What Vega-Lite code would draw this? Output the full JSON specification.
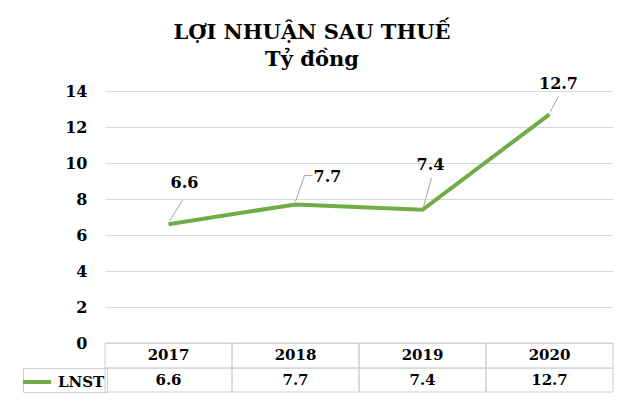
{
  "$schema": "https://vega.github.io/schema/vega-lite/v6.json",
  "width": 508,
  "height": 301,
  "autosize": {"type": "none"},
  "padding": {"left": 105, "top": 91, "right": 17, "bottom": 10},
  "background": "white",
  "title": {
    "text": ["LỢI NHUẬN SAU THUẾ", "Tỷ đồng"],
    "font": "'DejaVu Serif', serif",
    "fontSize": 21,
    "fontWeight": "bold",
    "lineHeight": 27,
    "color": "black",
    "anchor": "middle",
    "dx": -47,
    "offset": 6
  },
  "config": {
    "view": {"stroke": null},
    "text": {"font": "'DejaVu Serif', serif", "fontWeight": "bold", "fontSize": 15, "color": "black"}
  },
  "data": {
    "values": [
      {"year": "2017", "LNST": 6.6},
      {"year": "2018", "LNST": 7.7},
      {"year": "2019", "LNST": 7.4},
      {"year": "2020", "LNST": 12.7}
    ]
  },
  "encoding": {
    "x": {
      "field": "year",
      "type": "ordinal",
      "scale": {"paddingInner": 0, "paddingOuter": 0},
      "axis": null
    }
  },
  "layer": [
    {
      "mark": {"type": "rect", "fill": null, "stroke": "#d0d0d0", "strokeWidth": 1},
      "encoding": {
        "y": {
          "datum": 0,
          "type": "quantitative",
          "scale": {"domain": [-2.72, 14], "nice": false, "zero": false},
          "axis": {
            "values": [0, 2, 4, 6, 8, 10, 12, 14],
            "title": null,
            "grid": true,
            "gridColor": "#d9d9d9",
            "domain": false,
            "ticks": false,
            "labelFont": "'DejaVu Serif', serif",
            "labelFontSize": 16,
            "labelFontWeight": "bold",
            "labelColor": "black",
            "labelPadding": 18
          }
        },
        "y2": {"datum": -1.39}
      }
    },
    {
      "mark": {"type": "rect", "fill": null, "stroke": "#d0d0d0", "strokeWidth": 1},
      "encoding": {
        "y": {"datum": -1.39, "type": "quantitative"},
        "y2": {"datum": -2.72}
      }
    },
    {
      "mark": {"type": "text", "baseline": "middle"},
      "encoding": {
        "y": {"datum": -0.69, "type": "quantitative"},
        "text": {"field": "year"}
      }
    },
    {
      "mark": {"type": "text", "baseline": "middle"},
      "encoding": {
        "y": {"datum": -2.06, "type": "quantitative"},
        "text": {"field": "LNST", "format": ".1f"}
      }
    },
    {
      "mark": {"type": "line", "strokeWidth": 4, "strokeCap": "butt"},
      "encoding": {
        "y": {"field": "LNST", "type": "quantitative"},
        "stroke": {
          "datum": "LNST",
          "type": "nominal",
          "scale": {"range": ["#70AD47"]},
          "legend": {
            "orient": "none",
            "legendX": -82,
            "legendY": 277,
            "title": null,
            "symbolType": "M-1.4,0H1.4",
            "symbolSize": 400,
            "symbolStrokeWidth": 4,
            "symbolFillColor": "transparent",
            "labelFont": "'DejaVu Serif', serif",
            "labelFontSize": 15,
            "labelFontWeight": "bold",
            "labelColor": "black",
            "labelOffset": 9,
            "padding": 2,
            "strokeColor": "#d0d0d0"
          }
        }
      }
    },
    {
      "transform": [{"filter": "datum.year == '2017'"}],
      "encoding": {
        "y": {"field": "LNST", "type": "quantitative"},
        "x2": {"field": "year"},
        "y2": {"field": "LNST"}
      },
      "layer": [
        {"mark": {"type": "rule", "color": "#a6a6a6", "strokeWidth": 1, "xOffset": 1, "yOffset": -3, "x2Offset": 14, "y2Offset": -24}},
        {"mark": {"type": "text", "baseline": "middle", "fontSize": 16, "dx": 16, "dy": -41}, "encoding": {"text": {"field": "LNST", "format": ".1f"}}}
      ]
    },
    {
      "transform": [{"filter": "datum.year == '2018'"}],
      "encoding": {
        "y": {"field": "LNST", "type": "quantitative"},
        "x2": {"field": "year"},
        "y2": {"field": "LNST"}
      },
      "layer": [
        {"mark": {"type": "rule", "color": "#a6a6a6", "strokeWidth": 1, "xOffset": 0, "yOffset": -3, "x2Offset": 9, "y2Offset": -29}},
        {"mark": {"type": "rule", "color": "#a6a6a6", "strokeWidth": 1, "xOffset": 9, "yOffset": -29, "x2Offset": 17, "y2Offset": -29}},
        {"mark": {"type": "text", "baseline": "middle", "fontSize": 16, "dx": 32, "dy": -27}, "encoding": {"text": {"field": "LNST", "format": ".1f"}}}
      ]
    },
    {
      "transform": [{"filter": "datum.year == '2019'"}],
      "encoding": {
        "y": {"field": "LNST", "type": "quantitative"},
        "x2": {"field": "year"},
        "y2": {"field": "LNST"}
      },
      "layer": [
        {"mark": {"type": "rule", "color": "#a6a6a6", "strokeWidth": 1, "xOffset": 1, "yOffset": -3, "x2Offset": 9, "y2Offset": -32}},
        {"mark": {"type": "text", "baseline": "middle", "fontSize": 16, "dx": 8, "dy": -45}, "encoding": {"text": {"field": "LNST", "format": ".1f"}}}
      ]
    },
    {
      "transform": [{"filter": "datum.year == '2020'"}],
      "encoding": {
        "y": {"field": "LNST", "type": "quantitative"},
        "x2": {"field": "year"},
        "y2": {"field": "LNST"}
      },
      "layer": [
        {"mark": {"type": "rule", "color": "#a6a6a6", "strokeWidth": 1, "xOffset": 1, "yOffset": -3, "x2Offset": 9, "y2Offset": -18}},
        {"mark": {"type": "text", "baseline": "middle", "fontSize": 16, "dx": 9, "dy": -30}, "encoding": {"text": {"field": "LNST", "format": ".1f"}}}
      ]
    }
  ]
}
